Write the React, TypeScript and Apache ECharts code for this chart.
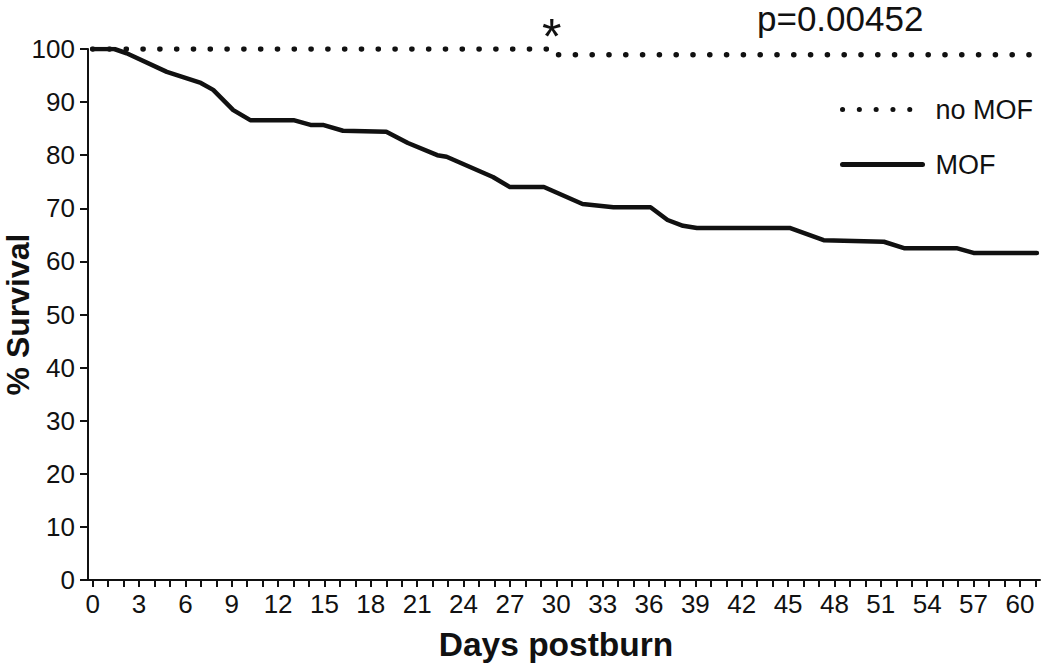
import React, { useEffect, useRef } from "react";
import * as echarts from "echarts";

// MOF Kaplan-Meier curve (day, % survival)
const mofDays = [0, 1.4, 2.2, 4.8, 7, 7.8, 9.1, 10.2, 13, 14.1, 14.9, 16.2, 19, 20.4, 22.3, 22.9, 25.9, 27, 29.2, 31.7, 33.7, 36.1, 37.2, 38.2, 39.1, 45.1, 47.3, 51.2, 52.5, 55.9, 57, 61.1];
const mofSurvival = [100, 100, 99.2, 95.7, 93.6, 92.3, 88.5, 86.6, 86.6, 85.7, 85.7, 84.6, 84.4, 82.3, 80.0, 79.7, 75.9, 74, 74, 70.8, 70.2, 70.2, 67.8, 66.7, 66.3, 66.3, 64.0, 63.7, 62.5, 62.5, 61.6, 61.6];

// no MOF curve
const noMofDays = [0, 29.7, 29.8, 61.1];
const noMofSurvival = [100, 100, 98.9, 98.9];

const xLabelDays = [0, 3, 6, 9, 12, 15, 18, 21, 24, 27, 30, 33, 36, 39, 42, 45, 48, 51, 54, 57, 60];
const xTickDays = Array.from({ length: 62 }, (_, i) => i);

const seriesNames = ["no MOF", "MOF"];
const pValueText = "p=0.00452";
const starDay = 29.7;

const FONT = "'Liberation Sans', Arial, sans-serif";
const INK = "#111";

export default function App() {
  const ref = useRef<HTMLDivElement>(null);
  useEffect(() => {
    if (!ref.current) return;
    const chart = echarts.init(ref.current, null, { renderer: "svg" });
    const mof = mofDays.map((d, i) => [d, mofSurvival[i]]);
    const noMof = noMofDays.map((d, i) => [d, noMofSurvival[i]]);
    chart.setOption({
      animation: false,
      backgroundColor: "#fff",
      textStyle: { fontFamily: FONT, color: INK },
      grid: { left: 88, right: 10, top: 49, bottom: 85, outerBoundsMode: "none", containLabel: false },
      legend: {
        orient: "vertical",
        left: 835,
        top: 91,
        itemWidth: 80,
        itemHeight: 14,
        itemGap: 28,
        data: seriesNames,
        itemStyle: { opacity: 0 },
        lineStyle: { width: 5 },
        textStyle: { fontSize: 27, color: INK, fontFamily: FONT, padding: [0, 0, 0, 8] },
      },
      graphic: [
        {
          type: "text",
          left: 757,
          top: 1,
          style: { text: pValueText, fontSize: 35, fill: INK, fontFamily: FONT },
        },
      ],
      xAxis: {
        type: "value",
        min: -0.3,
        max: 61.3,
        name: "Days postburn",
        nameLocation: "middle",
        nameGap: 47,
        nameMoveOverlap: false,
        nameTextStyle: { fontSize: 33.5, fontWeight: "bold", color: INK, fontFamily: FONT, padding: [0, 16, 0, 0] },
        splitLine: { show: false },
        axisLine: { lineStyle: { color: INK, width: 2 } },
        axisTick: { customValues: xTickDays, length: 7, lineStyle: { color: INK, width: 2 } },
        axisLabel: { customValues: xLabelDays, fontSize: 26, color: INK, margin: 11, fontFamily: FONT },
      },
      yAxis: {
        type: "value",
        min: 0,
        max: 100,
        interval: 10,
        name: "% Survival",
        nameLocation: "middle",
        nameGap: 54,
        nameMoveOverlap: false,
        nameTextStyle: { fontSize: 32, fontWeight: "bold", color: INK, fontFamily: FONT },
        splitLine: { show: false },
        axisLine: { onZero: false, lineStyle: { color: INK, width: 2 } },
        axisTick: { length: 8, lineStyle: { color: INK, width: 2 } },
        axisLabel: { fontSize: 26, color: INK, margin: 13, fontFamily: FONT },
      },
      series: [
        {
          name: seriesNames[0],
          type: "line",
          data: noMof,
          symbol: "none",
          lineStyle: { color: INK, width: 5.5, type: [0.1, 16.7], cap: "round" },
          itemStyle: { color: INK },
          markPoint: {
            symbol: "circle",
            symbolSize: 1,
            itemStyle: { color: "rgba(0,0,0,0)" },
            label: { show: true, formatter: "*", fontSize: 50, color: INK, offset: [0, -12], fontFamily: FONT },
            data: [{ coord: [starDay, 100] }],
          },
        },
        {
          name: seriesNames[1],
          type: "line",
          data: mof,
          symbol: "none",
          lineStyle: { color: INK, width: 4.5, join: "round", cap: "round" },
          itemStyle: { color: INK },
        },
      ],
    });
    return () => chart.dispose();
  }, []);
  return <div ref={ref} style={{ width: 1050, height: 665, position: "absolute", left: 0, top: 0 }} />;
}
